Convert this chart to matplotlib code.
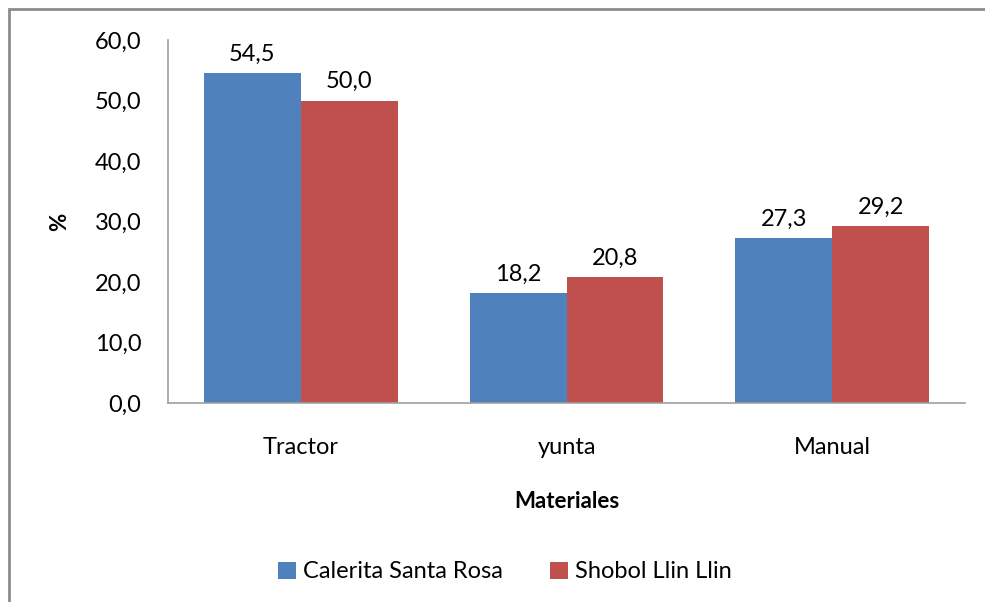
import matplotlib
matplotlib.use("Agg")
import matplotlib.pyplot as plt
import numpy as np
from matplotlib.patches import Rectangle

categories = ["Tractor", "yunta", "Manual"]
series_names = ["Calerita Santa Rosa", "Shobol Llin Llin"]
calerita = [54.5, 18.2, 27.3]
shobol = [50.0, 20.8, 29.2]
colors = ["#4F81BD", "#C0504D"]

plt.rcParams['font.family'] = ['Lato', 'DejaVu Sans']
FS = 17

fig = plt.figure(figsize=(9.85, 6.02), dpi=100)
W, H = 985, 602
ax = fig.add_axes([168 / W, 1 - 403 / H, (965 - 168) / W, (403 - 40) / H])

x = np.arange(len(categories))
bw = 0.365
for i, (vals, name, c) in enumerate(zip([calerita, shobol], series_names, colors)):
    pos = x + (i - 0.5) * bw
    bars = ax.bar(pos, vals, width=bw, color=c, label=name, zorder=2)
    for b, v in zip(bars, vals):
        ax.annotate(f"{v:.1f}".replace(".", ","), (b.get_x() + b.get_width() / 2, v),
                    xytext=(0, 6), textcoords="offset points", ha="center", va="bottom",
                    fontsize=FS)

ax.set_xlim(-0.5, 2.5)
ax.set_ylim(0, 60)
ax.set_yticks(np.arange(0, 61, 10))
ax.set_yticklabels([f"{v:.1f}".replace(".", ",") for v in np.arange(0, 61, 10)], fontsize=FS)
ax.set_xticks(x)
ax.set_xticklabels(categories, fontsize=FS)
ax.tick_params(axis='both', length=0)
ax.tick_params(axis='y', pad=19)
ax.tick_params(axis='x', pad=24.5)
for s in ["top", "right"]:
    ax.spines[s].set_visible(False)
for s in ["left", "bottom"]:
    ax.spines[s].set_color("#A0A0A0")
    ax.spines[s].set_linewidth(1.2)

ax.set_xlabel("Materiales", fontsize=FS - 1, fontweight="bold", labelpad=24)
ax.set_ylabel("%", fontsize=FS - 1, fontweight="bold", labelpad=18)

leg = fig.legend(loc="center", bbox_to_anchor=(505 / W, 1 - 572 / H), ncol=2, frameon=False,
                 fontsize=FS, handlelength=0.75, handleheight=0.75, handletextpad=0.3,
                 columnspacing=2.0)

fig.patches.append(Rectangle((9 / W, -0.1), 1.2, (1 - 9 / H) + 0.1, transform=fig.transFigure,
                             fill=False, edgecolor="#8C8C8C", linewidth=2, zorder=0))

fig.savefig("out.png", dpi=100)
